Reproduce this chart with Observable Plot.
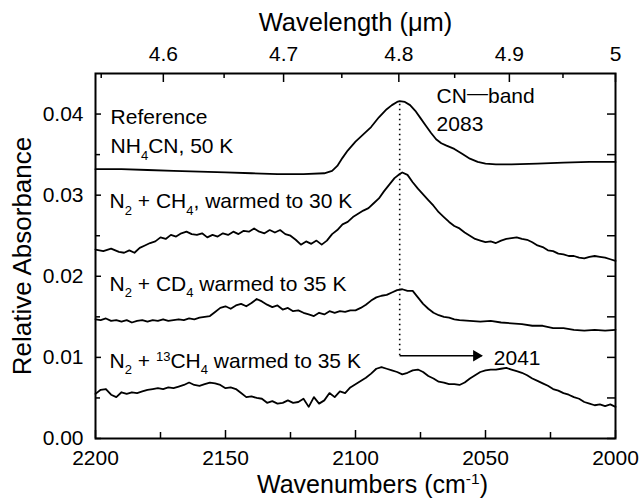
<!DOCTYPE html>
<html><head><meta charset="utf-8">
<script src="https://cdn.jsdelivr.net/npm/d3@7"></script>
<script src="https://cdn.jsdelivr.net/npm/@observablehq/plot@0.6"></script>
<style>body{margin:0;background:#fff}</style>
</head><body><div id="chart"></div>
<script>
// ---- data (wavenumber cm^-1, relative absorbance) ----
const refNu  = [2200,2190,2180,2170,2160,2150,2140,2130,2120,2112,2109,2107,2105,2103,2100,2097,2094,2091,2088,2086,2084,2083,2081,2079,2077,2075,2073,2071,2069,2067,2065,2062,2059,2056,2053,2050,2046,2040,2030,2020,2010,2000];
const refAbs = [0.0332,0.0332,0.0331,0.0330,0.0329,0.0328,0.0327,0.0326,0.0326,0.0327,0.0330,0.0336,0.0346,0.0355,0.0366,0.0375,0.0384,0.0396,0.0406,0.0411,0.0415,0.0416,0.0415,0.0411,0.0404,0.0395,0.0386,0.0377,0.0369,0.0364,0.0361,0.0357,0.0351,0.0345,0.0341,0.0339,0.0338,0.0338,0.0339,0.0340,0.0341,0.0341];

const ch4Nu  = [2200,2197,2194,2191,2189,2187,2185,2183,2181,2179,2177,2175,2173,2171,2169,2167,2165,2163,2161,2159,2157,2155,2153,2151,2149,2147,2145,2143,2141,2139,2137,2135,2133,2131,2129,2127,2125,2123,2121,2119,2117,2115,2113,2111,2109,2107,2105,2103,2101,2099,2097,2095,2093,2091,2089,2087,2085,2083,2082,2080,2078,2076,2074,2072,2070,2068,2066,2064,2062,2060,2058,2056,2054,2052,2050,2048,2046,2044,2042,2040,2038,2036,2034,2032,2030,2028,2026,2024,2022,2020,2018,2016,2014,2012,2010,2008,2006,2004,2002,2000];
const ch4Abs = [0.0233,0.0231,0.0234,0.0230,0.0229,0.0232,0.0229,0.0235,0.0238,0.0241,0.0243,0.0248,0.0246,0.0251,0.0249,0.0253,0.0255,0.0252,0.0251,0.0253,0.0248,0.0251,0.0249,0.0253,0.0251,0.0255,0.0252,0.0256,0.0255,0.0259,0.0255,0.0253,0.0257,0.0254,0.0257,0.0252,0.0250,0.0245,0.0239,0.0243,0.0240,0.0244,0.0239,0.0244,0.0252,0.0257,0.0264,0.0267,0.0273,0.0277,0.0281,0.0284,0.0290,0.0296,0.0305,0.0313,0.0321,0.0326,0.0328,0.0325,0.0316,0.0308,0.0301,0.0294,0.0287,0.0279,0.0273,0.0267,0.0262,0.0259,0.0254,0.0250,0.0246,0.0244,0.0242,0.0243,0.0241,0.0244,0.0246,0.0247,0.0248,0.0246,0.0245,0.0242,0.0238,0.0236,0.0232,0.0231,0.0228,0.0227,0.0225,0.0225,0.0223,0.0222,0.0224,0.0225,0.0224,0.0223,0.0221,0.0219];

const cd4Nu  = [2200,2198,2196,2194,2192,2190,2188,2186,2184,2182,2180,2178,2176,2174,2172,2170,2168,2166,2164,2162,2160,2158,2156,2154,2152,2150,2148,2146,2144,2142,2140,2138,2136,2134,2132,2130,2128,2126,2124,2122,2120,2118,2116,2114,2112,2110,2108,2106,2104,2102,2100,2098,2096,2094,2092,2090,2088,2086,2084,2082,2080,2078,2076,2074,2072,2070,2068,2066,2064,2062,2060,2056,2052,2048,2044,2040,2036,2032,2028,2024,2020,2016,2012,2008,2004,2000];
const cd4Abs = [0.0147,0.0146,0.0148,0.0145,0.0146,0.0144,0.0146,0.0143,0.0145,0.0146,0.0144,0.0146,0.0145,0.0147,0.0145,0.0146,0.0147,0.0146,0.0148,0.0147,0.0149,0.0150,0.0151,0.0156,0.0161,0.0163,0.0160,0.0164,0.0166,0.0163,0.0167,0.0172,0.0169,0.0165,0.0162,0.0164,0.0159,0.0161,0.0157,0.0158,0.0155,0.0153,0.0151,0.0155,0.0153,0.0157,0.0155,0.0157,0.0156,0.0158,0.0158,0.0161,0.0165,0.0170,0.0174,0.0176,0.0177,0.0180,0.0183,0.0184,0.0182,0.0182,0.0174,0.0166,0.0160,0.0155,0.0152,0.0150,0.0149,0.0147,0.0146,0.0145,0.0144,0.0145,0.0143,0.0142,0.0141,0.0139,0.0139,0.0136,0.0136,0.0134,0.0133,0.0134,0.0133,0.0134];

const c13Nu  = [2200,2198,2196,2194,2192,2190,2188,2186,2184,2182,2180,2178,2176,2174,2172,2170,2168,2166,2164,2162,2160,2158,2156,2154,2152,2150,2148,2146,2144,2142,2140,2138,2136,2134,2132,2130,2128,2126,2124,2122,2120,2118,2116,2114,2112,2110,2108,2106,2104,2102,2100,2098,2096,2094,2092,2090,2088,2086,2084,2082,2080,2078,2076,2074,2072,2070,2068,2066,2064,2062,2060,2058,2056,2054,2052,2050,2048,2046,2044,2042,2040,2038,2036,2034,2032,2030,2028,2026,2024,2022,2020,2018,2016,2014,2012,2010,2008,2006,2004,2002,2000];
const c13Abs = [0.0055,0.0060,0.0061,0.0054,0.0051,0.0057,0.0055,0.0057,0.0056,0.0058,0.0060,0.0061,0.0062,0.0061,0.0063,0.0062,0.0064,0.0066,0.0069,0.0066,0.0065,0.0067,0.0069,0.0068,0.0066,0.0062,0.0063,0.0061,0.0056,0.0051,0.0052,0.0050,0.0049,0.0044,0.0046,0.0043,0.0044,0.0047,0.0044,0.0045,0.0049,0.0039,0.0051,0.0043,0.0047,0.0056,0.0051,0.0058,0.0056,0.0063,0.0067,0.0071,0.0075,0.0080,0.0086,0.0088,0.0086,0.0084,0.0082,0.0079,0.0081,0.0084,0.0085,0.0082,0.0077,0.0074,0.0070,0.0069,0.0067,0.0067,0.0066,0.0069,0.0074,0.0078,0.0082,0.0084,0.0085,0.0085,0.0086,0.0087,0.0085,0.0083,0.0081,0.0078,0.0074,0.0071,0.0068,0.0065,0.0061,0.0059,0.0056,0.0054,0.0051,0.0049,0.0045,0.0043,0.0041,0.0042,0.0040,0.0042,0.0039];

// ---- ticks ----
const xMajor = [2200,2150,2100,2050,2000];
const xMinor = [2175,2125,2075,2025];
const yMajor = [0.00,0.01,0.02,0.03,0.04];
const yMinor = [0.005,0.015,0.025,0.035];
const wlMajor = [4.6,4.7,4.8,4.9,5.0];
const wlMinor = [4.55,4.65,4.75,4.85,4.95];

// ---- annotations ----
const annoText = ["Reference","NH_{4}CN, 50 K","N_{2} + CH_{4}, warmed to 30 K","N_{2} + CD_{4} warmed to 35 K","N_{2} + ^{13}CH_{4} warmed to 35 K","CN!{—}band","2083","2041"];
const annoNu   = [2194.2,2194.2,2194.6,2194.6,2194.6,2068.8,2068.8,2046.8];
const annoAbs  = [0.0396,0.0360,0.0292,0.0190,0.0095,0.0422,0.0387,0.0099];
const bandNu = 2083, bandTop = 0.0416, arrowAbs = 0.0102, arrowEnd = 2051.5;

const series = [
  ["ref", refNu, refAbs], ["ch4", ch4Nu, ch4Abs], ["cd4", cd4Nu, cd4Abs], ["c13", c13Nu, c13Abs]
].flatMap(([s, nu, a]) => nu.map((n, i) => ({series: s, nu: n, a: a[i]})));
const annos = annoText.map((t, i) => ({t, nu: annoNu[i], a: annoAbs[i]}));

const px = 200 / 520;        // cm^-1 per pixel
const py = 0.045 / 365;      // absorbance per pixel

const plot = Plot.plot({
  width: 641, height: 499,
  marginLeft: 95, marginRight: 26, marginTop: 73, marginBottom: 61,
  style: {fontFamily: "'Liberation Sans', Arial, sans-serif", fontSize: "21px", color: "black", background: "white"},
  x: {domain: [2200, 2000]},
  y: {domain: [0, 0.045]},
  marks: [
    Plot.line(series, {x: "nu", y: "a", z: "series", stroke: "black", strokeWidth: 1.8, curve: "linear"}),
    Plot.ruleX([bandNu], {y1: arrowAbs, y2: bandTop, stroke: "black", strokeWidth: 1.6, strokeDasharray: "1.6,3.4"}),
    Plot.link([0], {x1: bandNu, x2: arrowEnd, y1: arrowAbs, y2: arrowAbs, stroke: "black", strokeWidth: 1.3}),
    Plot.dot([0], {x: arrowEnd + 2, y: arrowAbs, symbol: "triangle", r: 4.2, rotate: 90, fill: "black"}),
    Plot.text(annos, {x: "nu", y: "a", text: "t", textAnchor: "start", lineAnchor: "middle", fontSize: 21}),
    // inward ticks
    Plot.ruleY(yMajor, {y: d => d, x1: 2200, x2: 2200 - 6 * px, stroke: "black", strokeWidth: 1.5}),
    Plot.ruleY(yMinor, {y: d => d, x1: 2200, x2: 2200 - 5 * px, stroke: "black", strokeWidth: 1.5}),
    Plot.ruleY(yMajor.concat(yMinor), {y: d => d, x1: 2000, x2: 2000 + 8 * px, stroke: "black", strokeWidth: 1.5}),
    Plot.ruleX(xMajor, {x: d => d, y1: 0, y2: 8 * py, stroke: "black", strokeWidth: 1.5}),
    Plot.ruleX(xMinor, {x: d => d, y1: 0, y2: 6 * py, stroke: "black", strokeWidth: 1.5}),
    Plot.ruleX(wlMajor.map(w => 1e4 / w), {x: d => d, y1: 0.045, y2: 0.045 - 9 * py, stroke: "black", strokeWidth: 1.5}),
    Plot.ruleX(wlMinor.map(w => 1e4 / w), {x: d => d, y1: 0.045, y2: 0.045 - 5 * py, stroke: "black", strokeWidth: 1.5}),
    Plot.frame({stroke: "black", strokeWidth: 2}),
    // axes
    Plot.axisX(xMajor, {anchor: "bottom", tickSize: 0, tickPadding: 12, fontSize: 21, label: null, tickFormat: "d"}),
    Plot.axisY(yMajor, {anchor: "left", tickSize: 0, tickPadding: 12, tickFormat: ".2f", fontSize: 21, label: null}),
    Plot.axisX(wlMajor.map(w => 1e4 / w), {anchor: "top", tickSize: 0, tickPadding: 13, fontSize: 21, label: null,
      tickFormat: d => String(+(1e4 / d).toFixed(2))}),
    // axis titles
    Plot.text(["Wavelength (μm)"], {frameAnchor: "top", dy: -51, text: d => d, fontSize: 25.5, lineAnchor: "middle", textAnchor: "middle"}),
    Plot.text(["Wavenumbers (cm^{-1})"], {frameAnchor: "bottom", dx: 17, dy: 46.5, text: d => d, fontSize: 25, lineAnchor: "middle", textAnchor: "middle"}),
    Plot.text(["Relative Absorbance"], {frameAnchor: "left", dx: -73, rotate: -90, text: d => d, fontSize: 26, lineAnchor: "middle", textAnchor: "middle"})
  ]
});
document.getElementById("chart").appendChild(plot);

// turn _{..} (subscript), ^{..} (superscript) and !{..} (raised) into tspans
d3.select(plot).selectAll("text").each(function () {
  const s = this.textContent;
  if (!/[_^!]\{/.test(s)) return;
  const fs = parseFloat(getComputedStyle(this).fontSize) || 21;
  const parts = [];
  const re = /([_^!])\{([^}]*)\}|([^_^!]+)/g;
  let m;
  while ((m = re.exec(s))) parts.push(m[3] !== undefined ? {k: "", t: m[3]} : {k: m[1], t: m[2]});
  this.textContent = "";
  let cur = 0;
  for (const p of parts) {
    const target = p.k === "_" ? 0.3 * fs : p.k === "^" ? -0.36 * fs : p.k === "!" ? -0.16 * fs : 0;
    const ts = d3.select(this).append("tspan").attr("dy", target - cur).text(p.t);
    cur = target;
    if (p.k === "_" || p.k === "^") ts.attr("font-size", 0.62 * fs);
  }
});
</script></body></html>
